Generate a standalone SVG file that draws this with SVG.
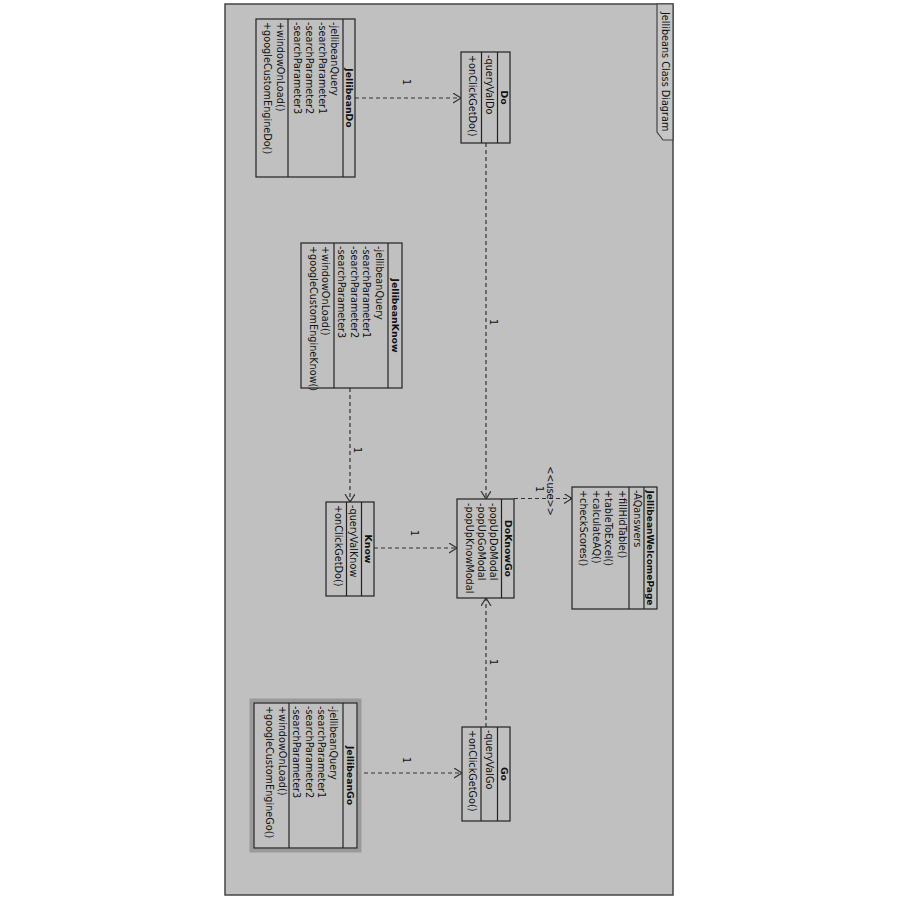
<svg xmlns="http://www.w3.org/2000/svg" width="900" height="900" viewBox="0 0 900 900">
<style>
text{font-family:"DejaVu Sans","Liberation Sans",sans-serif;font-size:9.7px;fill:#111}
.h{font-weight:bold;font-size:9.3px;text-anchor:middle}
.lbl{text-anchor:middle}
.box{fill:#c0c0c0;stroke:#222;stroke-width:1.2}
.sep{stroke:#222;stroke-width:1.2}
.con{fill:none;stroke:#333;stroke-width:1.2;stroke-dasharray:4 3}
</style>
<defs>
<marker id="open" markerUnits="userSpaceOnUse" markerWidth="12" markerHeight="12" refX="8" refY="5" orient="auto" viewBox="0 0 12 12">
<path d="M0,0 L8,5 L0,10" fill="none" stroke="#333" stroke-width="1.2"/>
</marker>
</defs>
<rect width="900" height="900" fill="#ffffff"/>
<g transform="matrix(0,1,-1,0,900,0)">
<g id="frame">
<rect x="4" y="227" width="891" height="448" fill="#c0c0c0" stroke="#444" stroke-width="1.5"/>
<path d="M4,227 L140,227 L140,237 L132,243 L4,243 Z" fill="#c6c6c6" stroke="#444" stroke-width="1.2"/>
<text x="12" y="238.5">Jellibeans Class Diagram</text>
</g>
<g id="connectors">
<line class="con" x1="98" y1="545" x2="98" y2="439" marker-end="url(#open)"/>
<text class="lbl" x="82" y="497.5">1</text>
<line class="con" x1="143" y1="414" x2="499" y2="414" marker-end="url(#open)"/>
<text class="lbl" x="322" y="410.5">1</text>
<line class="con" x1="388" y1="550" x2="502" y2="550" marker-end="url(#open)"/>
<text class="lbl" x="450" y="546.5">1</text>
<line class="con" x1="548" y1="526" x2="548" y2="443" marker-end="url(#open)"/>
<text class="lbl" x="533" y="489.5">1</text>
<line class="con" x1="498.5" y1="386" x2="498.5" y2="328" marker-end="url(#open)"/>
<text class="lbl" x="491" y="353.5">&lt;&lt;use&gt;&gt;</text>
<text class="lbl" x="489" y="364.5">1</text>
<line class="con" x1="727" y1="414" x2="598" y2="414" marker-end="url(#open)"/>
<text class="lbl" x="662" y="410.5">1</text>
<line class="con" x1="773" y1="543" x2="773" y2="438" marker-end="url(#open)"/>
<text class="lbl" x="760" y="497.5">1</text>
</g>
<g id="JellibeanDo">
<rect class="box" x="19" y="545" width="158" height="99"/>
<line class="sep" x1="19" y1="557" x2="177" y2="557"/>
<line class="sep" x1="19" y1="612" x2="177" y2="612"/>
<text class="h" x="98" y="554.5">JellibeanDo</text>
<text x="22" y="569">-jellibeanQuery</text>
<text x="22" y="581.5">-searchParameter1</text>
<text x="22" y="594">-searchParameter2</text>
<text x="22" y="606.5">-searchParameter3</text>
<text x="22" y="623.5">+windowOnLoad()</text>
<text x="22" y="636">+googleCustomEngineDo()</text>
</g>
<g id="Do">
<rect class="box" x="52" y="390" width="91" height="49"/>
<line class="sep" x1="52" y1="402.5" x2="143" y2="402.5"/>
<line class="sep" x1="52" y1="418.5" x2="143" y2="418.5"/>
<text class="h" x="97.5" y="399.5">Do</text>
<text x="55" y="414">-queryValDo</text>
<text x="55" y="431.5">+onClickGetDo()</text>
</g>
<g id="JellibeanKnow">
<rect class="box" x="243" y="498" width="145" height="101"/>
<line class="sep" x1="243" y1="512" x2="388" y2="512"/>
<line class="sep" x1="243" y1="566" x2="388" y2="566"/>
<text class="h" x="315.5" y="508.5">JellibeanKnow</text>
<text x="246" y="524.5">-jellibeanQuery</text>
<text x="246" y="537">-searchParameter1</text>
<text x="246" y="549.5">-searchParameter2</text>
<text x="246" y="562">-searchParameter3</text>
<text x="246" y="578.5">+windowOnLoad()</text>
<text x="246" y="590.5">+googleCustomEngineKnow()</text>
</g>
<g id="Know">
<rect class="box" x="502" y="526" width="94" height="48"/>
<line class="sep" x1="502" y1="538.5" x2="596" y2="538.5"/>
<line class="sep" x1="502" y1="553.5" x2="596" y2="553.5"/>
<text class="h" x="549" y="535.5">Know</text>
<text x="505" y="550.5">-queryValKnow</text>
<text x="505" y="565.5">+onClickGetDo()</text>
</g>
<g id="DoKnowGo">
<rect class="box" x="499" y="386" width="99" height="57"/>
<line class="sep" x1="499" y1="398.5" x2="598" y2="398.5"/>
<text class="h" x="548.5" y="395.5">DoKnowGo</text>
<text x="503" y="410">-popUpDoModal</text>
<text x="503" y="422">-popUpGoModal</text>
<text x="503" y="434.5">-popUpKnowModal</text>
</g>
<g id="JellibeanWelcomePage">
<rect class="box" x="487" y="243" width="122" height="85"/>
<line class="sep" x1="487" y1="256" x2="609" y2="256"/>
<line class="sep" x1="487" y1="271" x2="609" y2="271"/>
<text class="h" x="548" y="253" textLength="115" lengthAdjust="spacingAndGlyphs">JellibeanWelcomePage</text>
<text x="490" y="266.5">-AQanswers</text>
<text x="490" y="281.5">+fillHidTable()</text>
<text x="490" y="295">+tableToExcel()</text>
<text x="490" y="307.5">+calculateAQ()</text>
<text x="490" y="320.5">+checkScores()</text>
</g>
<g id="JellibeanGo">
<rect x="700.5" y="540.5" width="150" height="108" fill="none" stroke="#9a9a9a" stroke-width="4"/>
<rect class="box" x="703" y="543" width="145" height="103"/>
<line class="sep" x1="703" y1="557" x2="848" y2="557"/>
<line class="sep" x1="703" y1="611" x2="848" y2="611"/>
<text class="h" x="775.5" y="553.5">JellibeanGo</text>
<text x="706" y="570">-jellibeanQuery</text>
<text x="706" y="582.5">-searchParameter1</text>
<text x="706" y="594.5">-searchParameter2</text>
<text x="706" y="607">-searchParameter3</text>
<text x="706" y="621.5">+windowOnLoad()</text>
<text x="706" y="634">+googleCustomEngineGo()</text>
</g>
<g id="Go">
<rect class="box" x="727" y="390" width="94" height="48"/>
<line class="sep" x1="727" y1="402.5" x2="821" y2="402.5"/>
<line class="sep" x1="727" y1="419" x2="821" y2="419"/>
<text class="h" x="774" y="399.5">Go</text>
<text x="730" y="414">-queryValGo</text>
<text x="730" y="431.5">+onClickGetGo()</text>
</g>
</g>
</svg>
